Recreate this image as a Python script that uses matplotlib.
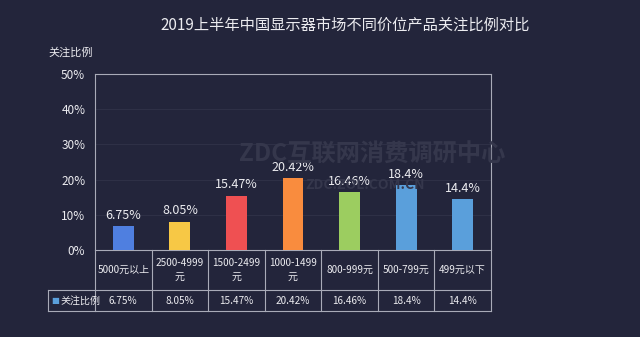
import numpy as np
import matplotlib
matplotlib.use('Agg')
import matplotlib.pyplot as plt
from matplotlib.transforms import blended_transform_factory

plt.rcParams['font.family'] = ['Noto Sans CJK SC', 'DejaVu Sans']

#%% data
categories = ['5000元以上', '2500-4999\n元', '1500-2499\n元', '1000-1499\n元',
              '800-999元', '500-799元', '499元以下']
values = [6.75, 8.05, 15.47, 20.42, 16.46, 18.4, 14.4]
value_labels = ['6.75%', '8.05%', '15.47%', '20.42%', '16.46%', '18.4%', '14.4%']
series_name = '关注比例'
colors = ['#4f7fe0', '#f7c845', '#ef5052', '#f98c3e', '#9ccd60', '#5a9fdb', '#5a9fdb']

bg = '#23253b'
fg = '#ececf0'
line_c = '#a9abb8'

fig = plt.figure(figsize=(6.4, 3.37), dpi=100, facecolor=bg)
ax = fig.add_axes([95/640, 1-250/337, 396/640, 176/337], facecolor=bg)

# watermark (behind everything)
fig.text(372/640, 1-155/337, 'ZDC互联网消费调研中心', color='#35374c', fontsize=17.5,
         fontweight='bold', ha='center', va='center', zorder=0)
fig.text(365/640, 1-185/337, 'ZDC.ZOL.COM.CN', color='#35374c', fontsize=10,
         fontweight='bold', ha='center', va='center', zorder=0)
ax.patch.set_alpha(0)

x = np.arange(len(values))
ax.bar(x, values, width=0.37, color=colors, zorder=3)
for xi, v, lab in zip(x, values, value_labels):
    ax.text(xi, v + 1.2, lab, ha='center', va='bottom', color=fg, fontsize=9, zorder=4)

ax.set_xlim(-0.5, len(values) - 0.5)
ax.set_ylim(0, 50)
ax.set_yticks(np.arange(0, 51, 10))
ax.set_yticklabels([f'{t}%' for t in range(0, 51, 10)])
ax.tick_params(axis='y', colors=fg, labelsize=8.5, length=0, pad=7)
ax.set_xticks([])
for t in np.arange(10, 50, 10):
    ax.axhline(t, color='#2e3046', lw=0.8, zorder=1)
for s in ['top', 'left', 'right']:
    ax.spines[s].set_color(line_c)
    ax.spines[s].set_linewidth(0.8)
ax.spines['bottom'].set_visible(False)

fig.text(48/640, 1-53/337, series_name, color=fg, fontsize=8, ha='left', va='center')
fig.text(345/640, 1-25/337, '2019上半年中国显示器市场不同价位产品关注比例对比',
         color=fg, fontsize=11, ha='center', va='center')

#%% table under the chart
tr = blended_transform_factory(ax.transData, ax.transAxes)
r1 = -40/176
r2 = -61/176
x_leg = -0.5 - 47/56.6
xr = len(values) - 0.5
kw = dict(color=line_c, lw=0.8, transform=tr, clip_on=False)
ax.plot([-0.5, xr], [0, 0], **kw)
ax.plot([x_leg, xr], [r1, r1], **kw)
ax.plot([x_leg, xr], [r2, r2], **kw)
ax.plot([x_leg, x_leg], [r1, r2], **kw)
for b in np.arange(-0.5, xr + 0.1, 1):
    ax.plot([b, b], [0, r2], **kw)

for xi, c, lab in zip(x, categories, value_labels):
    ax.text(xi, r1/2, c, ha='center', va='center', color=fg, fontsize=7.2,
            linespacing=1.5, transform=tr)
    ax.text(xi, (r1 + r2)/2, lab, ha='center', va='center', color=fg, fontsize=7.2,
            transform=tr)
ax.text(x_leg + 0.06, (r1 + r2)/2, '\u25a0', color='#5a9fdb', fontsize=6,
        ha='left', va='center', transform=tr, family='DejaVu Sans')
ax.text(x_leg + 0.22, (r1 + r2)/2, series_name, color=fg, fontsize=7.2,
        ha='left', va='center', transform=tr)

fig.savefig('out.png', dpi=100, facecolor=bg)
